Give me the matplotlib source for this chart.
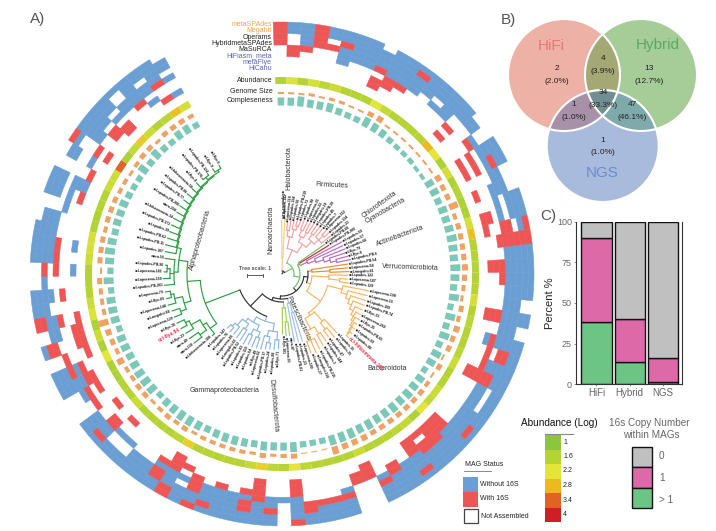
#!/usr/bin/env python
import numpy as np
import matplotlib
matplotlib.use('Agg')
from matplotlib import pyplot as plt
from matplotlib.colors import LinearSegmentedColormap
from matplotlib.patches import Circle, Polygon, Rectangle

plt.rc('font', family=['Liberation Sans', 'DejaVu Sans'])

# assemblers, outer ring first
assemblers = ['metaSPAdes', 'Megahit', 'Operams', 'HybridmetaSPAdes', 'MaSuRCA',
              'HiFiasm_meta', 'metaFlye', 'HiCanu']
assembler_cols = ['#f5a445', '#f5a445', '#222222', '#222222', '#222222',
                  '#5566c0', '#5566c0', '#5566c0']

# one string per MAG, one digit per assembler: 0 not assembled, 1 without 16S, 2 with 16S
mag_status = [
    '22220000', '11002200', '11112000', '22220000', '11020000', '11211100',
    '11111000', '11111000', '01112022', '11111220', '11111200', '12111000',
    '11110000', '11101000', '11111000', '11100202', '01100000', '00012000',
    '11110202', '11210202', '00110000', '00111002', '11101000', '11101022',
    '21022002', '22222200', '11111000', '11111222', '11111200', '11111000',
    '00111000', '11111222', '00111000', '11111210', '11220200', '11111200',
    '11122222', '11011000', '11011000', '11111000', '12111000', '11111222',
    '11112222', '11112202', '12111222', '11111000', '11112200', '11121000',
    '00000222', '00000220', '11121000', '11120000', '11120000', '11220000',
    '21111222', '00001000', '11211000', '11112222', '11221200', '11111000',
    '11111200', '12111000', '21122200', '11101020', '22111222', '11221200',
    '11110000', '11110000', '11001000', '11001002', '12112200', '11110002',
    '00002000', '00012020', '11111220', '11121200', '00020002', '12200022',
    '00110022', '22112002', '11100000', '11110200', '00100000', '00202001',
    '11112000', '11112001', '11110000', '01110000', '00001000', '11101020',
    '11101110', '00000020', '01100100', '21000202', '11111000', '11110220',
    '11101022', '10011000', '11111200', '11011010', '11112002', '01101001']

abundance = [
    1.6, 2.1, 1.6, 2.0, 1.7, 1.9, 1.6, 1.6, 1.6, 2.2, 1.8, 1.6, 1.6, 1.6, 1.6, 2.8, 2.2,
    1.5, 2.0, 1.5, 1.6, 1.5, 1.5, 2.0, 2.7, 1.6, 1.6, 1.6, 1.6, 1.6, 2.0, 1.6, 1.7, 1.6,
    1.6, 1.7, 1.9, 1.6, 1.6, 1.9, 1.8, 2.2, 1.5, 1.8, 1.7, 1.6, 1.6, 1.6, 1.9, 1.6, 1.6,
    1.6, 1.6, 1.7, 2.2, 1.6, 1.7, 2.5, 1.8, 1.6, 1.6, 1.6, 1.6, 1.6, 2.5, 1.7, 1.6, 1.6,
    1.6, 1.6, 1.9, 1.6, 1.6, 1.5, 1.5, 2.2, 1.5, 1.9, 1.5, 2.1, 1.9, 1.6, 1.6, 1.6, 1.9,
    2.0, 2.0, 1.6, 1.5, 1.6, 1.6, 1.9, 1.9, 3.4, 1.5, 1.8, 2.6, 1.9, 1.6, 1.7, 2.7, 2.0]

genome_size = [
    2, 2, 2, 3, 2, 3, 3, 2, 2, 5, 6, 2, 2, 2, 2, 2, 2, 2,
    6, 5, 5, 9, 4, 5, 5, 5, 5, 6,
    5, 4, 3, 5, 4, 6, 5, 5, 2, 5, 2, 4, 5, 5, 5, 5, 5, 5, 5, 6, 6, 6, 8, 1, 1, 1, 5, 4, 3, 5, 3,
    4, 4, 4, 4, 4, 3, 5, 4, 5, 4, 3, 5, 5, 4, 4, 7, 4, 5, 6, 10, 4, 4, 4, 5, 2, 5,
    5, 5, 4, 5, 5, 5, 4, 4, 3, 4, 5, 5, 3, 5, 5, 5, 4]

completeness = [
    89, 89, 96, 89, 89, 92, 85, 82, 82, 96, 92, 89, 82, 78, 78, 78, 74, 74, 92, 92, 85, 92, 89, 92, 96, 92, 89,
    96, 92, 85, 96, 82, 96, 85, 96, 85, 96, 92, 82, 92, 92, 96, 92, 96, 92, 92, 96, 92, 96, 96, 96, 82, 82, 82, 96, 89, 89, 92, 85,
    89, 92, 92, 89, 85, 92, 96, 96, 92, 89, 82, 96, 96, 96, 92, 89, 92, 92, 82, 92, 92, 92, 82, 96, 82, 92,
    96, 92, 85, 89, 89, 92, 85, 82, 82, 96, 85, 96, 85, 82, 92, 92, 82]

leaf_names = [
    'ccl-spades-PB.23', 'ccl-spades.142', 'ccl-operama.114', 'ccl-spades.134', 'ccl-spades.56',
    'ccl-spades-PB.219', 'ccl-spades.73', 'ccl-spades.98', 'ccl-operama.31', 'ccl-spades.22',
    'ccl-megahit.29', 'ccl-spades-PB.39', 'ccl-spades.45', 'ccl-spades.7', 'ccl-operama.112',
    'ccl-spades.134', 'ccl-spades.23', 'ccl-spades-PB.68', 'ccl-spades-PB.209', 'ccl-spades.59',
    'ccl-spades.57', 'ccl-spades.66', 'ccl-flye.79', 'ccl-flye.8', 'ccl-spades-PB.6',
    'ccl-spades-PB.54', 'ccl-operama.54', 'ccl-megahit.81', 'ccl-spades.122', 'ccl-operama.187',
    'ccl-spades.129', 'ccl-operama.198', 'ccl-operama.15', 'ccl-spades.109', 'ccl-spades-PB.74',
    'ccl-flye.33', 'ccl-operama.260', 'ccl-flye.35', 'ccl-spades-PB.65', 'ccl-spades.69',
    'ccl-spades.88', 'ccl-hifiasmmeta.153', 'ccl-spades.15', 'ccl-spades.35', 'ccl-spades.47',
    'ccl-spades.144', 'ccl-spades.3', 'ccl-spades-PB.215', 'ccl-megahit.102', 'ccl-spades.27',
    'ccl-operama.190', 'ccl-spades.23', 'ccl-spades-PB.81', 'mora.47', 'ccl-operama.93',
    'ccl-flye.101', 'ccl-flye.71', 'ccl-spades.88', 'ccl-spades.24', 'ccl-spades-PB.17',
    'ccl-operama.62', 'ccl-flye.49', 'ccl-spades.64', 'ccl-spades.119', 'ccl-spades.83',
    'ccl-spades-PB.52', 'ccl-megahit.66', 'ccl-operama.85', 'ccl-spades.76', 'ccl-spades.147',
    'ccl-hifiasmmeta.100', 'mora.138', 'mora.49', 'ccl-flye.23', 'ccl-flye.84', 'ccl-flye.36',
    'ccl-operama.129', 'ccl-megahit.84', 'ccl-operama.148', 'ccl-flye.65', 'ccl-operama.79',
    'ccl-spades-PB.201', 'ccl-operama.159', 'ccl-operama.181', 'ccl-spades-PB.96', 'mora.55',
    'ccl-spades.107', 'ccl-spades-PB.11', 'ccl-spades-PB.62', 'ccl-spades.39', 'ccl-spades-PB.173',
    'ccl-hifiasmmeta.34', 'mora.204', 'ccl-spades-PB.208', 'ccl-spades-PB.77', 'ccl-spades-PB.86',
    'ccl-hifiasmmeta.58', 'ccl-flye.4', 'ccl-spades-PB.176', 'ccl-spades-PB.124', 'ccl-flye.9',
    'ccl-flye.6']
red_leaves = ['ccl-hifiasmmeta.153', 'ccl-flye.84']

# tree: (colour, radius, children...) or (radius, children...); a bare number is a leaf tip
nano = ('#f6cf85', 16, 54, 55)
firm = ('#f4a3a0', 26,
        (38, (44, 52, 54), (46, 54, (50, 56, 56))),
        (36, (42, (48, 58, 58), (48, 58, 60)),
         (44, (50, 60, 60), (50, 60, (56, 62, 62), 62))))
actino = ('#b56cc4', 28, 68, (36, 67, (44, 68, (50, 66, (56, 68, 70)))))
chloro = ('#6fbf6f', 52)
cyano = ('#e02020', 55)
verruco = ('#f28c28', 30, 66, (48, 66, 67))
bactero = ('#f6b668', 30,
           (47, 66, (58, 66, 67)),
           (47,
            (62, 88, (68, 88, (72, 88, (76, 88, (80, 88, (83, 88, (85, 90, (87, 90, (88, 91, (89, 92, 92)))))))))),
            (50, (62, 80, (70, 82, 78)), (62, (70, 80, 82), (72, 84, 86, 84)))))
pates = ('#9cc3e6', 30, (40, 70, 70), 69)
desulf = ('#a6d05a', 34, (48, 62, 62), 60)
gamma = ('#8db8e0', 50,
         (58, (66, 75, 76), (64, (70, 76, 77), 78)),
         (56, (62, (68, 78, 79), (68, 78, 80)),
          (60, (66, 79, 78), (68, 77, (72, 78, 77)))))
alpha_a = (90, 93, (94, (102, 112, 113), (104, 113, (108, 115, 116))))
alpha_c = (102, (108, 116, 116), (110, 118, (113, 118, 118)))
alpha_e = (108, 118, (112, 119, (115, 118, 117)), 118)
alpha_f = (120, (123, 125, 125), (122, 126, 126))
for inner_r, tip_r in ((119, 125), (118, 124), (117, 124), (116, 123), (115, 123), (114, 122), (113, 122),
                       (112, 121), (111, 120), (110, 120), (109, 120), (108, 119)):
    alpha_f = (inner_r, tip_r, alpha_f)
alpha = ('#2f9e44', 82, alpha_a, (95, alpha_c, (104, alpha_e, alpha_f)))
bacteria = ('#6fbf6f', 12, firm,
            (18, (20, chloro, cyano, actino),
             ('#333333', 22,
              (26, verruco, bactero),
              (25, pates, (28, desulf, (45, gamma, alpha))))))
tree = ('#333333', 3, nano, bacteria)

clade_labels = [
    ('Alphaproteobacteria', 200, 240, 74), ('Gammaproteobacteria', 225, 391, 0),
    ('Desulfobacterota', 273, 405, -85), ('Patescibacteria', 298, 318, -65),
    ('Bacteroidota', 387, 369, 0), ('Verrucomicrobiota', 410, 267, -2),
    ('Actinobacteriota', 400, 236, 20), ('Cyanobacteria', 385, 211, 30),
    ('Chloroflexota', 380, 205, 36), ('Firmicutes', 332, 185, -3),
    ('Halobacterota', 289, 168, 90), ('Nanoarchaeota', 271, 230, 90)]

# venn counts
venn_labels = [('2', '(2.0%)', 557, 69), ('4', '(3.9%)', 603, 59), ('13', '(12.7%)', 649, 69),
               ('34', '(33.3%)', 603, 93), ('1', '(1.0%)', 574, 105), ('47', '(46.1%)', 632, 105),
               ('1', '(1.0%)', 603, 140)]

# 16S copy number per method
methods = ['HiFi', 'Hybrid', 'NGS']
copies_many = [38.5, 13.5, 1]
copies_one = [51.5, 26.5, 15]
copies_zero = [10, 60, 84]

abund_ticks = ['1', '1.6', '2.2', '2.8', '3.4', '4']
abund_cols = ['#8cc63f', '#b5d334', '#e3e53b', '#edb920', '#e06326', '#cc2027']

blue, red = '#6b9fd4', '#ee5555'
green16, pink16, grey16 = '#6cc585', '#dd69a8', '#c0c0c0'

cx, cy, rad = 282., 274., 255.
nleaf = len(mag_status)
dth = np.deg2rad(3.27)
th0 = np.deg2rad(-2.)
theta = th0 + dth*(np.arange(nleaf) + 0.5)

fig = plt.figure(figsize=(7.16, 5.31), dpi=100)

# pixel axes for everything that is not on the wheel
ov = fig.add_axes([0, 0, 1, 1])
ov.set_xlim(0, 716)
ov.set_ylim(531, 0)
ov.axis('off')

ax = fig.add_axes([(cx-rad)/716, (531-cy-rad)/531, 2*rad/716, 2*rad/531], projection='polar')
ax.set_theta_zero_location('N')
ax.set_theta_direction(-1)
ax.set_rlim(0, rad)
ax.axis('off')
ax.patch.set_alpha(0)

# heat rings
r_out, tw = 252., 5.75
for val, col in ((1, blue), (2, red)):
    for t in range(len(assemblers)):
        status = np.array([int(s[t]) for s in mag_status])
        ax.bar(theta[status == val], tw, width=dth, bottom=r_out-(t+1)*tw,
               color=col, edgecolor=col, linewidth=0.35)

# abundance ring
cmap = LinearSegmentedColormap.from_list('abund', abund_cols)
ax.bar(theta, 7, width=dth, bottom=190, linewidth=0,
       color=cmap((np.array(abundance)-1)/3.))

# genome size and completeness bars
ax.bar(theta, genome_size, width=dth*0.6, bottom=180, color='#efa261', linewidth=0)
ax.bar(theta, (np.array(completeness)-60)/3.6, width=dth*0.66, bottom=168.5,
       color='#7cc8b8', linewidth=0)

# tree
leaf_count = [0]
tips = []

def draw_node(node, parent_r, col):
    if not isinstance(node, tuple):
        node = (node,)
    if isinstance(node[0], str):
        col = node[0]
        node = node[1:]
    r = node[0]
    if len(node) == 1:
        ang = theta[leaf_count[0]]
        tips.append((ang, r))
        leaf_count[0] += 1
    else:
        angs = [draw_node(child, r, col) for child in node[1:]]
        ang = 0.5*(angs[0] + angs[-1])
        tt = np.linspace(angs[0], angs[-1], 40)
        ax.plot(tt, np.full(40, r), color=col, lw=0.85, solid_capstyle='round')
    ax.plot([ang, ang], [parent_r, r], color=col, lw=0.85, solid_capstyle='round')
    return ang

draw_node(tree, 0, '#333333')

for (ang, r), name in zip(tips, leaf_names):
    deg = 90 - np.rad2deg(ang)
    right = np.cos(np.deg2rad(deg)) >= 0
    isred = name in red_leaves
    ax.text(ang, r+1, name, rotation=deg if right else deg+180, rotation_mode='anchor',
            ha='left' if right else 'right', va='center',
            fontsize=3.5 if isred else 2.5, fontweight='bold',
            color='#e8334a' if isred else '#111111')

for name, x, y, rot in clade_labels:
    ov.text(x, y, name, rotation=rot, ha='center', va='center', fontsize=5, color='#333333')

# tree scale
ov.text(255, 268, 'Tree scale: 1', ha='center', va='center', fontsize=3.8, fontweight='bold', color='#555555')
ov.plot([247, 263], [275, 275], color='#444444', lw=0.6)
ov.plot([247, 247], [273.5, 276.5], color='#444444', lw=0.6)
ov.plot([263, 263], [273.5, 276.5], color='#444444', lw=0.6)

# ring names
for i, (name, col) in enumerate(zip(assemblers, assembler_cols)):
    ov.text(272, 24.5+6.3*i, name, ha='right', va='center', fontsize=5, color=col)
ov.text(273, 80.5, 'Abundance', ha='right', va='center', fontsize=5, color='#222222')
ov.text(273, 91.5, 'Genome Size', ha='right', va='center', fontsize=5, color='#222222')
ov.text(273, 101, 'Compleseness', ha='right', va='center', fontsize=5, color='#222222')

ov.text(30, 19, 'A)', ha='left', va='center', fontsize=11, color='#555555')
ov.text(501, 20, 'B)', ha='left', va='center', fontsize=11, color='#555555')
ov.text(540, 216, 'C)', ha='left', va='center', fontsize=11, color='#555555')

# venn
vr = 56.
centres = [(564., 75.), (641., 75.), (602.7, 146.)]
solo = ['#eeb1a5', '#a6cc98', '#a9bbdd']
circles = []
for c, col in zip(centres, solo):
    p = Circle(c, vr, facecolor=col, edgecolor='none')
    ov.add_patch(p)
    circles.append(p)
for i, j, col in ((0, 1, '#a3a874'), (0, 2, '#a791a8'), (1, 2, '#7faaab')):
    p = Circle(centres[i], vr, facecolor=col, edgecolor='none')
    ov.add_patch(p)
    p.set_clip_path(circles[j])

pts = []
tt = np.linspace(0, 2*np.pi, 720)
for i, c in enumerate(centres):
    px = c[0] + vr*np.cos(tt)
    py = c[1] + vr*np.sin(tt)
    keep = np.ones(len(tt), bool)
    for j, d in enumerate(centres):
        if j != i:
            keep &= (px-d[0])**2 + (py-d[1])**2 <= vr**2
    pts.append(np.column_stack([px[keep], py[keep]]))
pts = np.vstack(pts)
mid = pts.mean(axis=0)
pts = pts[np.argsort(np.arctan2(pts[:, 1]-mid[1], pts[:, 0]-mid[0]))]
ov.add_patch(Polygon(pts, closed=True, facecolor='#718e92', edgecolor='none'))
for c in centres:
    ov.add_patch(Circle(c, vr, facecolor='none', edgecolor='white', lw=1.5))

ov.text(551, 46, 'HiFi', ha='center', va='center', fontsize=11, color='#e07b78')
ov.text(658, 45, 'Hybrid', ha='center', va='center', fontsize=11, color='#52ad5e')
ov.text(602, 173, 'NGS', ha='center', va='center', fontsize=11, color='#6b8ccb')
for n, pct, x, y in venn_labels:
    ov.text(x, y, n, ha='center', va='center', fontsize=6, color='#222222')
    ov.text(x, y+12.5, pct, ha='center', va='center', fontsize=6, color='#222222')

# panel C
bx = fig.add_axes([576/716, (531-384)/531, 106/716, 162/531])
xpos = np.arange(3)
bkw = dict(width=0.91, edgecolor='#111111', linewidth=1.0)
bx.bar(xpos, copies_many, color=green16, **bkw)
bx.bar(xpos, copies_one, bottom=copies_many, color=pink16, **bkw)
bx.bar(xpos, copies_zero, bottom=np.add(copies_many, copies_one), color=grey16, **bkw)
bx.set_xlim(-0.615, 2.57)
bx.set_ylim(0, 100)
bx.set_xticks(xpos)
bx.set_xticklabels(methods)
bx.set_yticks([0, 25, 50, 75, 100])
bx.tick_params(colors='#666666', labelsize=6.5, length=1.5, width=0.5, pad=1.5)
bx.tick_params(axis='x', labelsize=7)
bx.set_ylabel('Percent %', fontsize=8, color='#222222', labelpad=1)
for s in bx.spines.values():
    s.set_linewidth(0.8)
    s.set_color('#333333')
bx.spines['top'].set_visible(False)

# MAG status legend
ov.text(465, 465, 'MAG Status', ha='left', va='center', fontsize=5, color='#222222')
ov.plot([464, 491], [471, 471], color='#777777', lw=0.6)
ov.add_patch(Rectangle((463, 477), 15, 15, facecolor=blue, edgecolor='none'))
ov.add_patch(Rectangle((463, 492), 15, 15, facecolor=red, edgecolor='none'))
ov.add_patch(Rectangle((463.5, 508.5), 14, 14, facecolor='white', edgecolor='#444444', lw=0.9))
ov.text(480, 484, 'Without 16S', ha='left', va='center', fontsize=5, color='#222222')
ov.text(480, 499, 'With 16S', ha='left', va='center', fontsize=5, color='#222222')
ov.text(481, 517, 'Not Assembled', ha='left', va='center', fontsize=5, color='#222222')

# abundance legend
ov.text(559.5, 423, 'Abundance (Log)', ha='center', va='center', fontsize=7.2, color='#111111')
ov.plot([545, 573], [434, 434], color='#888888', lw=0.8)
for i, (lab, col) in enumerate(zip(abund_ticks, abund_cols)):
    ov.add_patch(Rectangle((545, 435+14.5*i), 16, 14.5, facecolor=col, edgecolor='none'))
    ov.text(563, 442+14.5*i, lab, ha='left', va='center', fontsize=5, color='#222222')

# copy number legend
ov.text(649, 423, '16s Copy Number', ha='center', va='center', fontsize=7.2, color='#666666')
ov.text(651, 435, 'within MAGs', ha='center', va='center', fontsize=7.2, color='#666666')
for i, (lab, col) in enumerate(zip(['0', '1', '> 1'], [grey16, pink16, green16])):
    ov.add_patch(Rectangle((632, 447+20.3*i), 20, 20.3, facecolor=col, edgecolor='#111111', lw=1.0))
    ov.text(659, 456+22*i, lab, ha='left', va='center', fontsize=7.2, color='#666666')

fig.savefig('out.png', dpi=100)
